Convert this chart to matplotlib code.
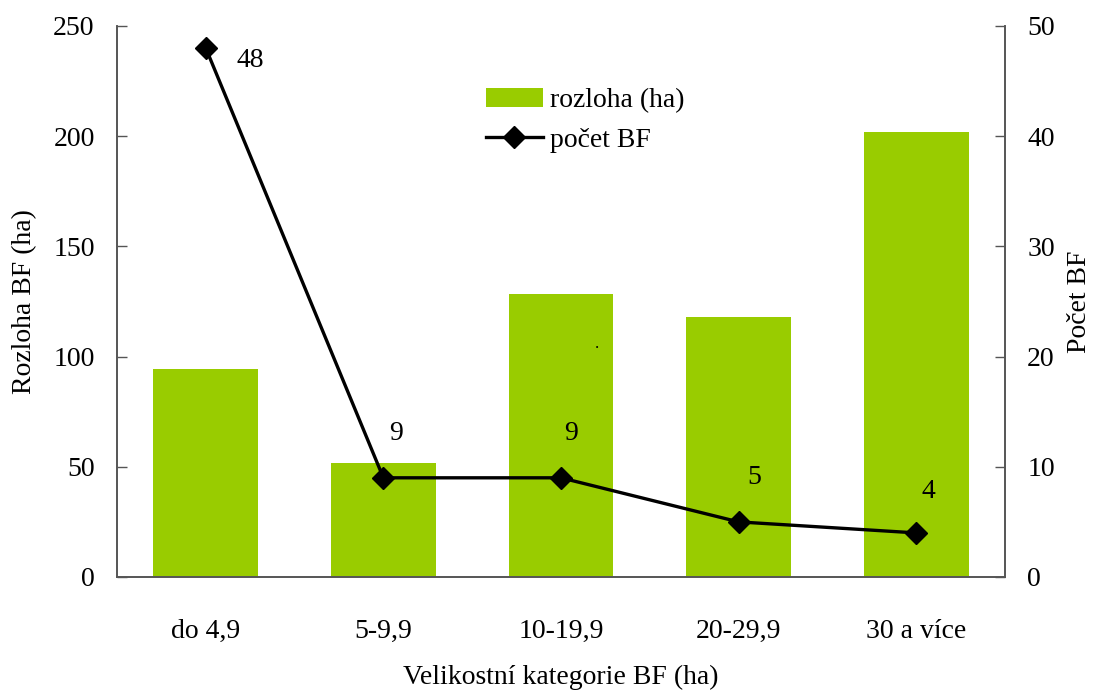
import numpy as np
import matplotlib
matplotlib.use('Agg')
import matplotlib.pyplot as plt

plt.rcParams['font.family'] = ['Liberation Serif', 'DejaVu Serif']
plt.rcParams['font.size'] = 20

categories = ['do 4,9', '5-9,9', '10-19,9', '20-29,9', '30 a více']
rozloha = [94.4, 51.7, 128.4, 118.0, 201.9]
pocet = [48, 9, 9, 5, 4]

# label offsets (points) for the count labels
label_offsets = [(32, -9), (9, 32), (7, 32), (11, 32), (9, 30)]

fig = plt.figure(figsize=(10.93, 6.91), dpi=100)
ax = fig.add_axes([0.107, 0.165, 0.8125, 0.7974])
ax2 = ax.twinx()

x = np.arange(len(categories))
ax.bar(x, rozloha, width=0.59, color='#99CC00', label='rozloha (ha)', zorder=2)
ax.set_xlim(-0.5, len(categories) - 0.5)
ax.set_ylim(0, 250)
ax.set_yticks(range(0, 251, 50))
ax.set_xticks(x)
ax.set_xticklabels(categories)
ax.tick_params(axis='x', length=0, pad=30)
ax.tick_params(axis='y', direction='in', length=7, width=1, color='#555555', pad=16)
ax.set_ylabel('Rozloha BF (ha)', va='center')
ax.yaxis.set_label_coords(-0.104, 0.5)
ax.set_xlabel('Velikostní kategorie BF (ha)', va='center')
ax.xaxis.set_label_coords(0.5, -0.1815)

ax2.plot(x, pocet, color='black', lw=2.4, marker='D', ms=11, label='počet BF', zorder=3)
ax2.set_ylim(0, 50)
ax2.set_yticks(range(0, 51, 10))
ax2.tick_params(axis='y', direction='in', length=7, width=1, color='#555555', pad=16)
ax2.set_ylabel('Počet BF', va='center')
ax2.yaxis.set_label_coords(1.084, 0.5)

for xi, v, off in zip(x, pocet, label_offsets):
    ax2.annotate(str(v), (xi, v), xytext=off, textcoords='offset points',
                 ha='center', va='center')

ax.text(2.2, 102, '.', ha='center', va='bottom', fontsize=12)

for a in (ax, ax2):
    a.spines['top'].set_visible(False)
    for s in ('left', 'right', 'bottom'):
        a.spines[s].set_color('#555555')
        a.spines[s].set_linewidth(1.2)

h1, l1 = ax.get_legend_handles_labels()
h2, l2 = ax2.get_legend_handles_labels()
ax.legend(h1 + h2, l1 + l2, loc='upper left', bbox_to_anchor=(0.4155, 0.887),
          frameon=False, fontsize=20, handlelength=2.05, handleheight=0.65,
          labelspacing=0.52, handletextpad=0.25, borderpad=0, borderaxespad=0)

fig.savefig('out.png', dpi=100)
